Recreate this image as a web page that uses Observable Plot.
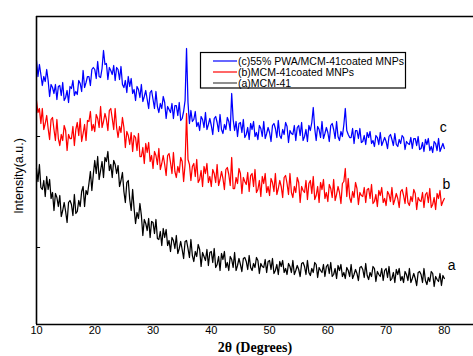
<!DOCTYPE html>
<html>
<head>
<meta charset="utf-8">
<script src="https://cdn.jsdelivr.net/npm/d3@7"></script>
<script src="https://cdn.jsdelivr.net/npm/@observablehq/plot@0.6"></script>
<style>
  html, body { margin: 0; padding: 0; background: #fff; }
  #chart { width: 473px; height: 356px; }
</style>
</head>
<body>
<div id="chart"></div>
<script>
// 2θ sampling grid: 10° to 80° in 0.25° steps (281 points)
const thetaStart = 10;
const thetaStep = 0.25;

// (a) MCM-41 — intensity (a.u.)
const seriesA = [
156,143,160,137, 135,144,128,148, 135,145,126,132, 114,131,127,118, 129,108,114,122,
113,102,122,124, 120,109,130,111, 113,124,118,133, 138,118,134,130, 141,153,134,150,
164,151,168,145, 154,163,147,167, 163,173,154,160, 147,164,160,151, 159,138,144,152,
133,122,142,144, 125,114,135,116, 101,112,106,121, 109,89,105,101, 94,106,87,103,
102,91,105,86, 85,93,79,96, 87,95,79,84, 73,87,84,76, 89,71,76,83,
75,66,83,84, 76,67,85,69, 63,73,68,80, 75,58,72,68, 64,75,59,72,
73,62,76,57, 60,68,54,71, 65,73,57,62, 54,68,65,57, 72,54,59,66,
60,53,66,67, 63,55,69,57, 54,61,57,67, 64,51,61,58, 57,65,52,63,
64,55,66,51, 54,60,50,63, 58,64,52,56, 50,61,58,52, 64,50,54,59,
55,48,61,62, 58,50,64,52, 49,56,52,62, 60,47,57,54, 52,60,48,58,
60,51,62,48, 50,56,46,59, 54,60,48,52, 46,57,54,48, 60,46,50,55,
51,44,57,58, 55,47,61,49, 45,52,48,58, 56,43,53,50, 48,56,44,54,
56,47,58,44, 46,52,42,55, 50,56,44,48, 42,53,50,44, 56,42,46,51,
46,39,52,53, 50,42,56,44, 40,47,43,53, 51,38,48,45, 43,51,39,49,
46
];

// (b) MCM-41 coated MNPs
const seriesB = [
224,212,216,201, 216,195,201,209, 196,185,205,207, 195,184,205,186, 179,190,184,199,
194,174,190,186, 186,198,179,195, 202,189,206,183, 191,200,184,204, 203,213,194,200,
193,210,206,197, 218,197,203,211, 205,194,214,216, 206,195,216,197, 187,198,192,207,
197,177,193,189, 180,192,173,189, 187,174,191,168, 168,177,161,181, 172,182,163,169,
156,173,169,160, 176,155,161,169, 160,149,169,171, 162,151,172,153, 147,158,152,167,
163,143,160,211, 165,160,144,158, 161,148,165,142, 145,154,138,158, 151,161,142,148,
138,155,151,142, 160,139,145,153, 146,135,155,157, 150,139,167,136, 136,147,141,156,
151,131,147,143, 140,152,133,149, 151,138,155,132, 135,144,128,148, 141,151,132,138,
129,146,142,133, 151,130,136,144, 138,127,147,149, 141,130,151,132, 127,138,132,147,
142,122,138,134, 132,144,125,141, 144,131,148,125, 129,138,122,142, 135,145,126,132,
123,140,136,127, 145,124,130,138, 132,121,141,143, 156,128,146,127, 122,133,127,142,
136,120,132,129, 128,137,122,135, 136,126,140,121, 123,130,118,134, 129,137,122,126,
119,133,130,123, 137,120,125,131, 126,117,133,135, 129,121,137,122, 119,128,123,135,
131,115,127,124, 123,132,117,130, 132,122,136,117, 120,127,115,131, 126,134,119,123,
126
];

// (c) 55% PWA/MCM-41 coated MNPs
const seriesC = [
264,248,260,250, 239,248,243,255, 244,228,240,237, 231,240,225,238, 239,229,242,224,
227,234,222,238, 236,244,229,233, 230,244,241,233, 254,237,242,248, 248,239,255,257,
255,246,263,248, 247,256,274,260, 261,245,257,254, 250,259,244,257, 255,245,258,240,
237,244,232,248, 238,246,231,235, 224,238,235,227, 240,223,228,234, 225,216,232,234,
225,216,233,218, 212,221,216,228, 222,206,218,215, 212,221,206,219, 219,209,222,204,
206,213,224,276, 222,201,214,203, 205,213,198,202, 194,208,205,197, 212,195,200,206,
199,190,206,208, 202,193,210,195, 191,200,195,207, 203,194,231,205, 194,203,188,201,
202,192,205,187, 190,197,185,201, 195,203,188,192, 185,199,196,188, 203,186,191,197,
192,183,199,201, 196,187,204,189, 186,195,190,202, 198,182,194,191, 190,199,184,197,
199,189,202,184, 188,195,183,199, 194,202,217,196, 184,198,195,187, 203,186,191,197,
192,183,199,201, 195,186,203,188, 184,193,188,200, 216,194,190,187, 187,196,181,194,
194,186,196,182, 183,189,180,192, 187,193,181,184, 178,189,187,180, 192,179,183,187,
183,176,188,190, 185,179,191,180, 178,185,181,189, 187,175,183,181, 180,187,176,186,
186,179,188,175, 176,182,173,185, 180,186,174,178, 172,183,181,174, 186,173,177,181,
176
];

const xTicks = [10, 20, 30, 40, 50, 60, 70, 80];
const seriesNames = ["(c)55% PWA/MCM-41coated MNPs", "(b)MCM-41coated MNPs", "(a)MCM-41"];
const seriesColors = ["#0000ff", "#ff0000", "#000000"];
const curveLabels = [
  {t: "c", x: 79.2, y: 197},
  {t: "b", x: 79.7, y: 140},
  {t: "a", x: 80.6, y: 59}
];
const yTickVals = [77, 188];

function toRows(arr, key) {
  return arr.map((v, i) => ({theta: thetaStart + i * thetaStep, I: v, s: key}));
}
const rowsA = toRows(seriesA, "a");
const rowsB = toRows(seriesB, "b");
const rowsC = toRows(seriesC, "c");

const plot = Plot.plot({
  width: 473,
  height: 356,
  marginTop: 16,
  marginLeft: 36,
  marginRight: 0,
  marginBottom: 32,
  style: {fontFamily: "Liberation Sans, Arial, sans-serif", fontSize: "11px", color: "#000", background: "#fff"},
  x: {domain: [10, 85], ticks: xTicks},
  y: {domain: [0, 308]},
  marks: [
    Plot.line(rowsA, {x: "theta", y: "I", stroke: seriesColors[2], strokeWidth: 1.25}),
    Plot.line(rowsB, {x: "theta", y: "I", stroke: seriesColors[1], strokeWidth: 1.25}),
    Plot.line(rowsC, {x: "theta", y: "I", stroke: seriesColors[0], strokeWidth: 1.25}),
    Plot.ruleY([0], {stroke: "#000", strokeWidth: 1.6}),
    Plot.ruleY([308], {stroke: "#000", strokeWidth: 1.6}),
    Plot.ruleX([10], {stroke: "#000", strokeWidth: 1.6}),
    Plot.ruleY(yTickVals, {x1: 10, x2: 10.7, stroke: "#000", strokeWidth: 1}),
    Plot.axisX({ticks: xTicks, tickSize: 0, tickPadding: 2, label: null, fontSize: 11}),
    Plot.axisY({ticks: [], label: null}),
    Plot.text(curveLabels, {x: "x", y: "y", text: "t", fontSize: 14, fill: "#000", textAnchor: "start"})
  ]
});

const svg = d3.select(plot);
// axis titles
svg.append("text")
  .attr("x", 255).attr("y", 352)
  .attr("text-anchor", "middle")
  .attr("font-family", "Liberation Serif, Times New Roman, serif")
  .attr("font-weight", "bold")
  .attr("font-size", 14)
  .attr("fill", "#000")
  .text("2θ (Degrees)");
svg.append("text")
  .attr("transform", "translate(22.5,176) rotate(-90)")
  .attr("text-anchor", "middle")
  .attr("font-family", "Liberation Sans, Arial, sans-serif")
  .attr("font-size", 12.5)
  .attr("fill", "#000")
  .text("Intensity(a.u.)");

// legend box
const lg = svg.append("g").attr("text-anchor", "start");
lg.append("rect").attr("x", 200.5).attr("y", 52.5).attr("width", 205).attr("height", 35.5)
  .attr("fill", "#fff").attr("stroke", "#000").attr("stroke-width", 1.2);
seriesNames.forEach((n, i) => {
  const yy = 61 + i * 11;
  lg.append("line").attr("x1", 213).attr("x2", 237).attr("y1", yy).attr("y2", yy)
    .attr("stroke", i === 2 ? "#444" : seriesColors[i]).attr("stroke-width", 1.2);
  lg.append("text").attr("x", 238).attr("y", yy + 3.5)
    .attr("text-anchor", "start")
    .attr("font-family", "Liberation Sans, Arial, sans-serif")
    .attr("font-size", 10.5).attr("fill", "#000").text(n);
});

document.getElementById("chart").appendChild(plot);
</script>
</body>
</html>
